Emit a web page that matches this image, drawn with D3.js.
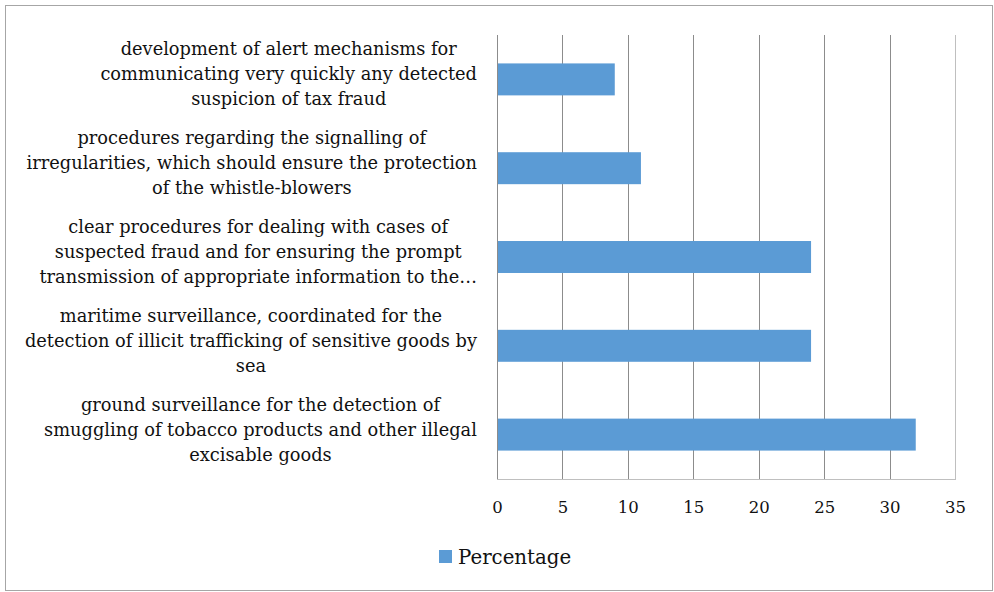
<!DOCTYPE html>
<html>
<head>
<meta charset="utf-8">
<script src="https://cdn.jsdelivr.net/npm/d3@7"></script>
<style>
  html, body { margin: 0; padding: 0; background: #fff; }
  svg { display: block; }
  text { font-family: "DejaVu Serif", serif; fill: #111; }
</style>
</head>
<body>
<svg id="chart" width="994" height="592"></svg>
<script>
// Category labels, top to bottom, already split into the lines they wrap to
const categoryLines = [
  ["development of alert mechanisms for", "communicating very quickly any detected", "suspicion of tax fraud"],
  ["procedures regarding the signalling of", "irregularities, which should ensure the protection", "of the whistle-blowers"],
  ["clear procedures for dealing with cases of", "suspected fraud and for ensuring the prompt", "transmission of appropriate information to the\u2026"],
  ["maritime surveillance, coordinated for the", "detection of illicit trafficking of sensitive goods by", "sea"],
  ["ground surveillance for the detection of", "smuggling of tobacco products and other illegal", "excisable goods"]
];
const categories = categoryLines.map(l => l.join(" "));
const percentage = [9, 11, 24, 24, 32];
const xTicks = [0, 5, 10, 15, 20, 25, 30, 35];
const seriesName = "Percentage";

const svg = d3.select("#chart");
const W = 994, H = 592;

// outer frame
svg.append("rect")
  .attr("x", 5.5).attr("y", 5.5)
  .attr("width", W - 7).attr("height", H - 7)
  .attr("fill", "none").attr("stroke", "#a6a6a6").attr("stroke-width", 1);

const plot = { left: 497, right: 955, top: 35, bottom: 479 };

const x = d3.scaleLinear().domain([0, 35]).range([plot.left, plot.right]);
const y = d3.scaleBand().domain(categories).range([plot.top, plot.bottom])
  .paddingInner(0.64).paddingOuter(0.32);

// vertical gridlines
svg.append("g").selectAll("line").data(xTicks.filter(t => t > 0)).join("line")
  .attr("x1", d => Math.round(x(d)) + 0.5).attr("x2", d => Math.round(x(d)) + 0.5)
  .attr("y1", plot.top).attr("y2", plot.bottom)
  .attr("stroke", d => d === 35 ? "#bfbfbf" : "#8c8c8c").attr("stroke-width", 1);

// bars
svg.append("g").selectAll("rect").data(percentage).join("rect")
  .attr("x", x(0))
  .attr("y", (d, i) => y(categories[i]))
  .attr("width", d => x(d) - x(0))
  .attr("height", y.bandwidth())
  .attr("fill", "#5b9bd5");

// axis lines (left and bottom)
svg.append("line")
  .attr("x1", Math.round(x(0)) + 0.5).attr("x2", Math.round(x(0)) + 0.5)
  .attr("y1", plot.top).attr("y2", plot.bottom + 0.5)
  .attr("stroke", "#8c8c8c");
svg.append("line")
  .attr("x1", plot.left).attr("x2", plot.right + 1)
  .attr("y1", plot.bottom + 0.5).attr("y2", plot.bottom + 0.5)
  .attr("stroke", "#bfbfbf");

// x tick labels
const xAxis = d3.axisBottom(x).tickValues(xTicks).tickSize(0).tickPadding(0);
const gx = svg.append("g").attr("transform", `translate(0,${plot.bottom})`).call(xAxis);
gx.attr("font-family", null).attr("font-size", null);
gx.select(".domain").remove();
gx.selectAll("text")
  .attr("y", 34).attr("dy", null)
  .style("font-size", "16.5px")
  .attr("fill", "#111");

// category labels: block right-aligned, lines centred within the block
const lineH = 25;
const labelRight = 477;
const gl = svg.append("g");
categoryLines.forEach((lines, i) => {
  const cy = y(categories[i]) + y.bandwidth() / 2 - 5;
  const t = gl.append("text")
    .attr("text-anchor", "middle")
    .style("font-size", "17.8px");
  lines.forEach((ln, j) => {
    t.append("tspan").attr("x", 0)
      .attr("y", cy + (j - (lines.length - 1) / 2) * lineH + 6)
      .text(ln);
  });
  const bw = t.node().getBBox().width;
  t.attr("transform", `translate(${labelRight - bw / 2},0)`);
});

// legend
const lg = svg.append("g");
lg.append("rect").attr("x", 439).attr("y", 550).attr("width", 13).attr("height", 13).attr("fill", "#5b9bd5");
lg.append("text").attr("x", 458).attr("y", 564).style("font-size", "19.8px").text(seriesName);
</script>
</body>
</html>
